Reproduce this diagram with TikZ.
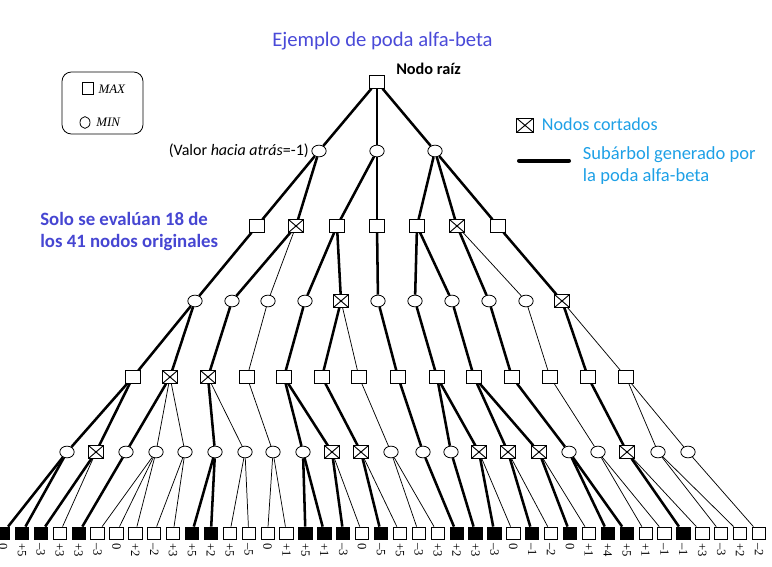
\documentclass[tikz,border=0pt]{standalone}
\usepackage{fontspec}
\setmainfont{Carlito}
\newfontfamily\tiempos{Liberation Serif}
\usetikzlibrary{shapes.geometric}
\definecolor{azulTitulo}{RGB}{74,74,216}
\definecolor{celeste}{RGB}{30,160,230}
\definecolor{azulNota}{RGB}{70,70,210}
\begin{document}
\begin{tikzpicture}[x=0.75pt,y=-0.75pt,
  maxn/.style={draw,line width=0.6pt,rectangle,minimum width=10.8pt,minimum height=9.3pt,inner sep=0pt,fill=white},
  minn/.style={draw,line width=0.6pt,ellipse,minimum width=10.8pt,minimum height=8.8pt,inner sep=0pt,fill=white},
  cortado/.style={maxn,path picture={\draw[line width=0.7pt]
    (path picture bounding box.north west) -- (path picture bounding box.south east)
    (path picture bounding box.north east) -- (path picture bounding box.south west);}},
  hoja/.style={draw,line width=0.6pt,rectangle,minimum width=10pt,minimum height=9pt,inner sep=0pt,fill=white},
  hojaE/.style={hoja,fill=black},
  gruesa/.style={line width=1.9pt},
  media/.style={line width=0.9pt},
  fina/.style={line width=0.55pt},
  valor/.style={rotate=-90,anchor=west,inner sep=0pt,font=\tiempos\fontsize{9.5}{11}\selectfont}]
\useasboundingbox (0,0) rectangle (772,567);

\node[maxn] (raiz) at (377,82) {};
\foreach \x[count=\i] in {319,377,435}
  \node[minn] (n1-\i) at (\x,151) {};
\foreach \x/\s[count=\i] in {257/maxn,296/cortado,337/maxn,377/maxn,417/maxn,457/cortado,498/maxn}
  \node[\s] (n2-\i) at (\x,226) {};
\foreach \x/\s[count=\i] in {195/minn,232/minn,268/minn,305/minn,341/cortado,378/minn,415/minn,452/minn,489/minn,526/minn,562/cortado}
  \node[\s] (n3-\i) at (\x,301) {};
\foreach \x/\s[count=\i] in {133/maxn,170/cortado,208/cortado,247/maxn,284/maxn,322/maxn,359/maxn,398/maxn,437/maxn,474/maxn,512/maxn,550/maxn,588/maxn,626/maxn}
  \node[\s] (n4-\i) at (\x,377) {};
\foreach \x/\s[count=\i] in {67/minn,96/cortado,126/minn,156/minn,185/minn,215/minn,245/minn,273/minn,303/minn,332/cortado,361/cortado,391/minn,423/minn,451/minn,479/cortado,508/cortado,539/cortado,569/minn,598/minn,627/cortado,658/minn,688/minn}
  \node[\s] (n5-\i) at (\x,452) {};
% hojas y sus valores
\foreach \v/\s[count=\i] in {0/hojaE,+5/hojaE,–3/hojaE,+3/hoja,+3/hojaE,–3/hoja,0/hoja,+2/hoja,–2/hoja,+3/hoja,+5/hojaE,+2/hojaE,+5/hoja,–5/hoja,0/hoja,+1/hoja,+5/hojaE,+1/hojaE,–3/hojaE,0/hoja,–5/hojaE,+5/hoja,–3/hoja,+3/hoja,+2/hojaE,+3/hojaE,–3/hojaE,0/hoja,–1/hojaE,–2/hoja,0/hojaE,+1/hoja,+4/hojaE,+5/hojaE,+1/hoja,–1/hoja,–1/hojaE,+3/hoja,–3/hoja,+2/hoja,–2/hoja}{
  \node[\s] (h-\i) at ({3+(\i-1)*18.9},533) {};
  \node[valor] (v-\i) at ({3+(\i-1)*18.9},543) {\v};
}

\draw[gruesa] (raiz) -- (n1-1);
\draw[media] (raiz) -- (n1-2);
\draw[gruesa] (raiz) -- (n1-3);
\foreach \a/\b in {1/1,1/2,2/3,2/4,3/5,3/6,3/7}
  \draw[gruesa] (n1-\a) -- (n2-\b);
\foreach \a/\b/\w in {1/1/gruesa,2/2/gruesa,2/3/fina,3/4/gruesa,3/5/gruesa,4/6/gruesa,5/7/gruesa,5/8/gruesa,6/9/gruesa,6/10/fina,7/11/gruesa}
  \draw[\w] (n2-\a) -- (n3-\b);
\foreach \a/\b/\w in {1/1/gruesa,1/2/gruesa,2/3/gruesa,3/4/fina,4/5/gruesa,5/6/gruesa,5/7/fina,6/8/gruesa,7/9/gruesa,8/10/gruesa,9/11/gruesa,10/12/fina,11/13/gruesa,11/14/fina}
  \draw[\w] (n3-\a) -- (n4-\b);
\foreach \a/\b/\w in {1/1/gruesa,1/2/gruesa,2/3/gruesa,2/4/fina,2/5/fina,3/6/gruesa,3/7/fina,4/8/fina,5/9/gruesa,5/10/gruesa,6/11/gruesa,7/12/fina,8/13/gruesa,9/14/gruesa,9/15/gruesa,10/16/gruesa,10/17/gruesa,11/18/gruesa,12/19/fina,13/20/gruesa,14/21/fina,14/22/fina}
  \draw[\w] (n4-\a) -- (n5-\b);
\foreach \a/\b/\w in {1/1/gruesa,1/2/gruesa,2/3/gruesa,2/4/fina,3/5/gruesa,4/6/fina,4/7/fina,4/8/fina,5/9/fina,5/10/fina,6/11/gruesa,6/12/gruesa,7/13/fina,7/14/fina,8/15/fina,8/16/fina,9/17/gruesa,9/18/gruesa,10/19/gruesa,10/20/fina,11/21/gruesa,11/22/fina,12/23/fina,12/24/fina,13/25/gruesa,14/26/gruesa,15/27/gruesa,15/28/fina,16/29/gruesa,16/30/fina,17/31/gruesa,17/32/fina,18/33/gruesa,18/34/gruesa,19/35/fina,19/36/fina,20/37/gruesa,20/38/fina,21/39/fina,21/40/fina,22/41/fina}
  \draw[\w] (n5-\a) -- (h-\b);

% textos y leyenda
\node[anchor=base,inner sep=0pt,text=azulTitulo,font=\fontsize{15.5}{18}\selectfont] (titulo) at (382.5,46.7) {Ejemplo de poda alfa-beta};
\node[anchor=base west,inner sep=0pt,font=\bfseries\fontsize{12.2}{14}\selectfont] (txtRaiz) at (396,75) {Nodo raíz};
\node[anchor=base east,inner sep=0pt,font=\fontsize{12}{14}\selectfont] (txtValor) at (309,155.5) {(Valor \textit{hacia atrás}=-1)};
\draw[line width=0.6pt,rounded corners=7pt] (62,72) rectangle (143,134);
\node[maxn,minimum width=8.3pt,minimum height=9pt] (leyMax) at (88.3,88.8) {};
\node[anchor=base west,inner sep=0pt,font=\tiempos\itshape\fontsize{9.7}{11}\selectfont] (txtMax) at (98.3,93.3) {MAX};
\node[minn,minimum width=7.5pt,minimum height=8.8pt] (leyMin) at (85,122.5) {};
\node[anchor=base west,inner sep=0pt,font=\tiempos\itshape\fontsize{9.7}{11}\selectfont] (txtMin) at (96,126.5) {MIN};
\node[cortado,minimum width=12.4pt,minimum height=10.5pt] (leyCorte) at (525,125.3) {};
\node[anchor=base west,inner sep=0pt,text=celeste,font=\fontsize{13.6}{16}\selectfont] (txtCorte) at (541.7,130.7) {Nodos cortados};
\draw[line width=3pt,line cap=round] (519,160.7) -- (569,160.7);
\node[anchor=base west,inner sep=0pt,text=celeste,font=\fontsize{13.9}{16}\selectfont] (txtSub1) at (582.7,159.3) {Subárbol generado por};
\node[anchor=base west,inner sep=0pt,text=celeste,font=\fontsize{13.9}{16}\selectfont] (txtSub2) at (582.7,181.7) {la poda alfa-beta};
\node[anchor=base west,inner sep=0pt,text=azulNota,font=\bfseries\fontsize{14.1}{16}\selectfont] (nota1) at (40,225) {Solo se evalúan 18 de};
\node[anchor=base west,inner sep=0pt,text=azulNota,font=\bfseries\fontsize{14.1}{16}\selectfont] (nota2) at (40,247.7) {los 41 nodos originales};
\end{tikzpicture}
\end{document}
